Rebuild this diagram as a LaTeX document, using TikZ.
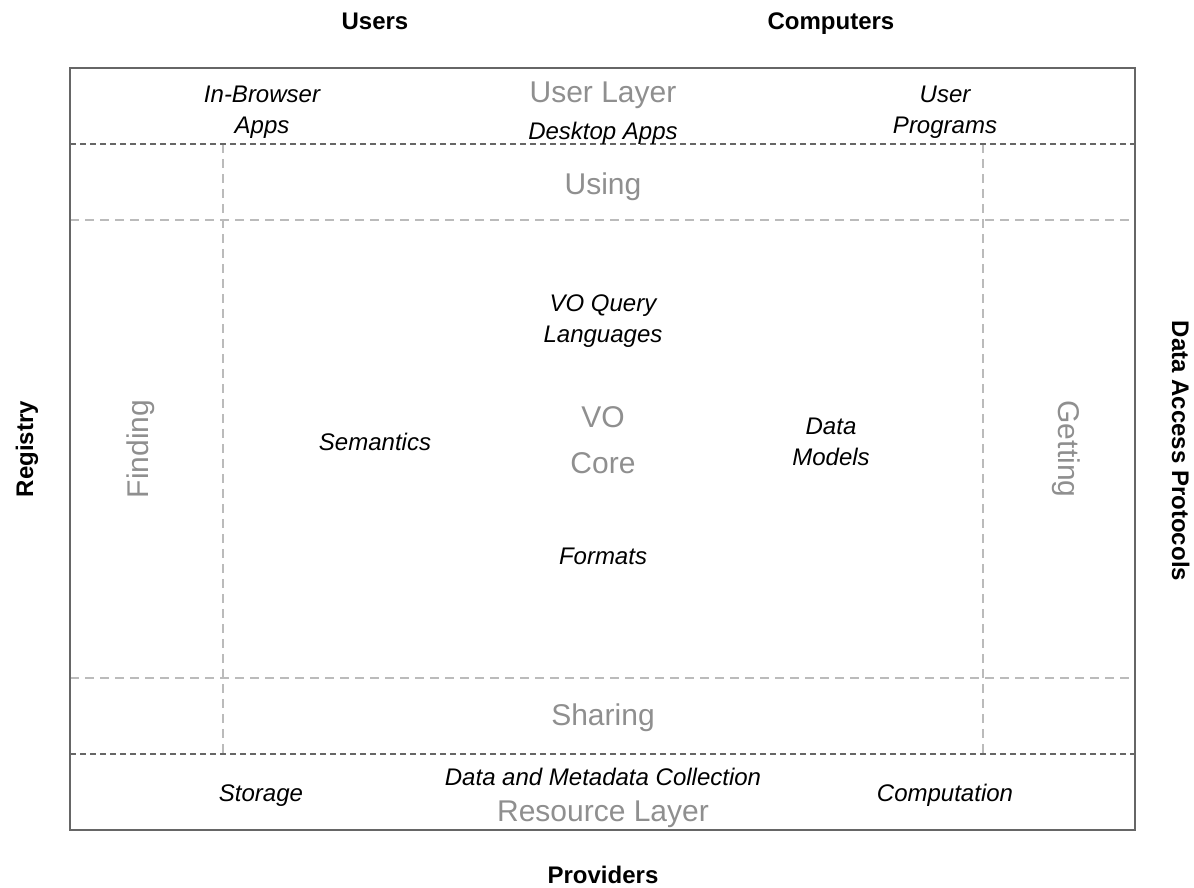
\documentclass[tikz,border=0pt]{standalone}
\usepackage{fontspec}
\setmainfont{Liberation Sans}
\definecolor{framecol}{HTML}{666666}
\definecolor{lightdash}{HTML}{BBBBBB}
\definecolor{graytext}{HTML}{8F8F8F}
\begin{document}
\begin{tikzpicture}[x=1pt,y=-1pt,
  titletxt/.style={font=\fontsize{24}{29}\selectfont\bfseries, anchor=base, inner sep=0pt},
  itemtxt/.style={font=\fontsize{24}{31}\selectfont\itshape, align=center, anchor=base, inner sep=0pt},
  layertxt/.style={font=\fontsize{30}{46}\selectfont, text=graytext, align=center, anchor=base, inner sep=0pt},
  outerframe/.style={draw=framecol, line width=2pt},
  darkdash/.style={draw=framecol, line width=2pt, dash pattern=on 6pt off 4pt},
  lightdashed/.style={draw=lightdash, line width=2pt, dash pattern=on 9pt off 6pt}]
\useasboundingbox (0,0) rectangle (1194,887);
% frame coordinates
\coordinate (tl) at (70,68);
\coordinate (br) at (1135,830);
\coordinate (d1l) at (70,144);  \coordinate (d1r) at (1135,144);
\coordinate (d2l) at (70,754);  \coordinate (d2r) at (1135,754);
\coordinate (l1l) at (70,220);  \coordinate (l1r) at (1135,220);
\coordinate (l2l) at (70,678);  \coordinate (l2r) at (1135,678);
\coordinate (v1t) at (223,144); \coordinate (v1b) at (223,754);
\coordinate (v2t) at (983,144); \coordinate (v2b) at (983,754);
% light dashed grid
\draw[lightdashed] (l1l) -- (l1r);
\draw[lightdashed] (l2l) -- (l2r);
\draw[lightdashed] (v1t) -- (v1b);
\draw[lightdashed] (v2t) -- (v2b);
% dark dashed layer separators
\draw[darkdash] (d1l) -- (d1r);
\draw[darkdash] (d2l) -- (d2r);
% outer frame
\draw[outerframe] (tl) rectangle (br);
% outside titles
\node[titletxt] (users) at (375,29) {Users};
\node[titletxt] (computers) at (831,29) {Computers};
\node[titletxt] (providers) at (603,883) {Providers};
\node[titletxt, rotate=90] (registry) at (33,449) {Registry};
\node[titletxt, rotate=-90] (dap) at (1172,451) {Data Access Protocols};
% gray layer labels
\node[layertxt] (userlayer) at (603,102) {User Layer};
\node[layertxt] (using) at (603,194) {Using};
\node[layertxt] (core) at (603,473) {VO\\Core};
\node[layertxt] (sharing) at (603,725) {Sharing};
\node[layertxt] (resource) at (603,821) {Resource Layer};
\node[layertxt, rotate=90] (finding) at (148,449) {Finding};
\node[layertxt, rotate=-90] (getting) at (1058,449) {Getting};
% italic items
\node[itemtxt] (browser) at (262,133) {In-Browser\\Apps};
\node[itemtxt] (desktop) at (603,139) {Desktop Apps};
\node[itemtxt] (programs) at (945,133) {User\\Programs};
\node[itemtxt] (vql) at (603,342) {VO Query\\Languages};
\node[itemtxt] (semantics) at (375,450) {Semantics};
\node[itemtxt] (models) at (831,465) {Data\\Models};
\node[itemtxt] (formats) at (603,564) {Formats};
\node[itemtxt] (collection) at (603,785) {Data and Metadata Collection};
\node[itemtxt] (storage) at (261,801) {Storage};
\node[itemtxt] (computation) at (945,801) {Computation};
\end{tikzpicture}
\end{document}
